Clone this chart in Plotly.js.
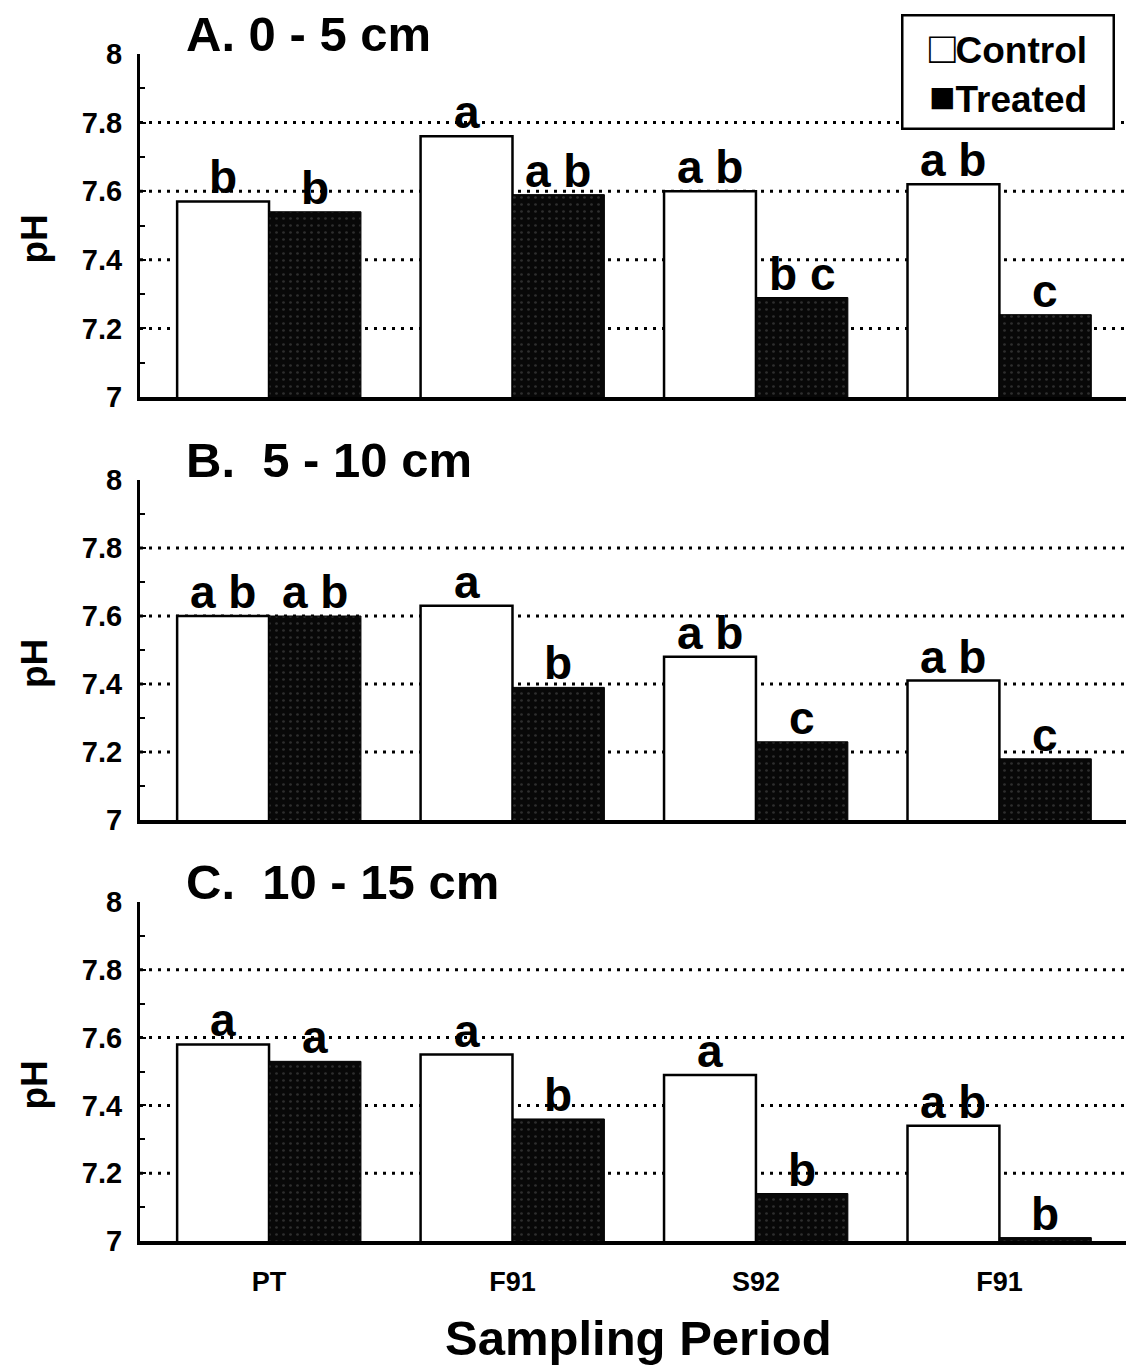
<!DOCTYPE html>
<html>
<head>
<meta charset="utf-8">
<script src="https://cdn.plot.ly/plotly-3.0.1.min.js"></script>
<style>
  html, body { margin: 0; padding: 0; background: #fff; }
  #chart { width: 1126px; height: 1365px; }
</style>
</head>
<body>
<div id="chart"></div>
<script>
// Soil pH by sampling period at three depths
const periods = ['PT', 'F91', 'S92', 'F91'];
const yTicks = [7, 7.2, 7.4, 7.6, 7.8, 8];
const gridLevels = [7.2, 7.4, 7.6, 7.8];

const panelTitles = ['A. 0 - 5 cm', 'B.\u00a0 5 - 10 cm', 'C.\u00a0 10 - 15 cm'];

const controlA = [7.57, 7.76, 7.60, 7.62];
const treatedA = [7.54, 7.59, 7.29, 7.24];
const controlB = [7.60, 7.63, 7.48, 7.41];
const treatedB = [7.60, 7.39, 7.23, 7.18];
const controlC = [7.58, 7.55, 7.49, 7.34];
const treatedC = [7.53, 7.36, 7.14, 7.01];

const lettersControlA = ['b', 'a', 'a b', 'a b'];
const lettersTreatedA = ['b', 'a b', 'b c', 'c'];
const lettersControlB = ['a b', 'a', 'a b', 'a b'];
const lettersTreatedB = ['a b', 'b', 'c', 'c'];
const lettersControlC = ['a', 'a', 'a', 'a b'];
const lettersTreatedC = ['a', 'b', 'b', 'b'];

const FONT = 'Liberation Sans, Arial, Helvetica, sans-serif';
const W = 1126, H = 1365;
const BARGAP = 0.245;
const xIdx = periods.map((_, i) => i);

// pixel extents of each panel's plot area (top = pH 8, bottom = pH 7)
const panelPx = [[54, 397], [480, 820], [902, 1241]];
const xLeftPx = 140;

const panels = [
  { ctrl: controlA, trt: treatedA, lc: lettersControlA, lt: lettersTreatedA },
  { ctrl: controlB, trt: treatedB, lc: lettersControlB, lt: lettersTreatedB },
  { ctrl: controlC, trt: treatedC, lc: lettersControlC, lt: lettersTreatedC }
];

const traces = [];
const annotations = [];
const shapes = [];
const layout = {
  width: W, height: H,
  margin: { l: 0, r: 0, t: 0, b: 0 },
  paper_bgcolor: '#fff', plot_bgcolor: 'rgba(0,0,0,0)',
  barmode: 'group', bargap: BARGAP, bargroupgap: 0,
  showlegend: false,
  font: { family: FONT, color: '#000' }
};

const half = (1 - BARGAP) / 4; // offset of each bar centre from the group centre

panels.forEach((p, k) => {
  const n = k === 0 ? '' : String(k + 1);
  const xa = 'x' + n, ya = 'y' + n;
  const [topPx, botPx] = panelPx[k];

  traces.push({
    type: 'bar', name: 'Control', x: xIdx, y: p.ctrl, xaxis: xa, yaxis: ya,
    marker: { color: '#fff', line: { color: '#000', width: 2.5 } },
    hovertemplate: '%{y:.2f}<extra>Control</extra>'
  });
  traces.push({
    type: 'bar', name: 'Treated', x: xIdx, y: p.trt, xaxis: xa, yaxis: ya,
    marker: {
      color: '#080808', line: { color: '#000', width: 1 },
      pattern: { shape: '.', bgcolor: '#080808', fgcolor: '#2e2e2e', size: 7, solidity: 0.12 }
    },
    hovertemplate: '%{y:.2f}<extra>Treated</extra>'
  });

  layout['xaxis' + n] = {
    domain: [xLeftPx / W, 1], range: [-0.53, 3.52], anchor: ya,
    showline: true, linecolor: '#000', linewidth: 3.5,
    showgrid: false, zeroline: false, ticks: '',
    tickvals: xIdx, ticktext: periods,
    showticklabels: k === 2,
    tickfont: { family: FONT, size: 27, weight: 'bold', color: '#000' },
    ticklabelstandoff: 14, fixedrange: true
  };
  layout['yaxis' + n] = {
    domain: [1 - botPx / H, 1 - topPx / H], range: [7, 8], anchor: xa,
    showline: true, linecolor: '#000', linewidth: 3,
    showgrid: false, zeroline: false,
    tickvals: yTicks, ticktext: yTicks.map(String),
    ticks: 'inside', ticklen: 6, tickwidth: 2, tickcolor: '#000',
    minor: { dtick: 0.1, tick0: 7, ticks: 'inside', ticklen: 5, tickwidth: 2, tickcolor: '#000' },
    tickfont: { family: FONT, size: 29, weight: 'bold', color: '#000' },
    ticklabelstandoff: 9, fixedrange: true
  };

  // dotted reference lines behind the bars
  gridLevels.forEach(v => shapes.push({
    type: 'line', layer: 'below', xref: xa + ' domain', yref: ya,
    x0: 0, x1: 1, y0: v, y1: v,
    line: { color: '#000', width: 3, dash: '3px,6px' }
  }));

  // significance letters above each bar
  const letter = (s) => s.replace(/ /g, '\u00a0');
  xIdx.forEach(i => {
    annotations.push({
      xref: xa, yref: ya, x: i - half, y: p.ctrl[i], text: letter(p.lc[i]),
      showarrow: false, xanchor: 'center', yanchor: 'bottom', yshift: -4,
      font: { family: FONT, size: 46, weight: 'bold', color: '#000' }
    });
    annotations.push({
      xref: xa, yref: ya, x: i + half, y: p.trt[i], text: letter(p.lt[i]),
      showarrow: false, xanchor: 'center', yanchor: 'bottom', yshift: -4,
      font: { family: FONT, size: 46, weight: 'bold', color: '#000' }
    });
  });

  // panel heading
  annotations.push({
    xref: 'paper', yref: 'paper', x: 184 / W, y: 1 - (topPx - 20) / H,
    text: panelTitles[k], showarrow: false, xanchor: 'left', yanchor: 'middle',
    font: { family: FONT, size: 49, weight: 'bold', color: '#000' }
  });

  // y-axis label
  annotations.push({
    xref: 'paper', yref: 'paper', x: 34 / W, y: 1 - ((topPx + botPx) / 2 + 14) / H,
    text: 'pH', textangle: -90, showarrow: false, xanchor: 'center', yanchor: 'middle',
    font: { family: FONT, size: 37, weight: 'bold', color: '#000' }
  });
});

// x-axis label under the bottom panel
annotations.push({
  xref: 'paper', yref: 'paper', x: 638 / W, y: 1 - 1338 / H,
  text: 'Sampling Period', showarrow: false, xanchor: 'center', yanchor: 'middle',
  font: { family: FONT, size: 49, weight: 'bold', color: '#000' }
});

// key in the top-right corner
annotations.push({
  xref: 'paper', yref: 'paper', x: 1007.5 / W, y: 1 - 71.5 / H,
  xanchor: 'center', yanchor: 'middle',
  text: '<span style="font-size:44px">\u25A1</span>Control<br><span style="font-size:44px">\u25A0</span>Treated',
  showarrow: false, align: 'center',
  width: 205, height: 107, borderpad: 2,
  bordercolor: '#000', borderwidth: 2.5, bgcolor: '#fff',
  font: { family: FONT, size: 37, weight: 'bold', color: '#000' }
});

layout.annotations = annotations;
layout.shapes = shapes;

Plotly.newPlot('chart', traces, layout, { displayModeBar: false, staticPlot: true });
</script>
</body>
</html>
